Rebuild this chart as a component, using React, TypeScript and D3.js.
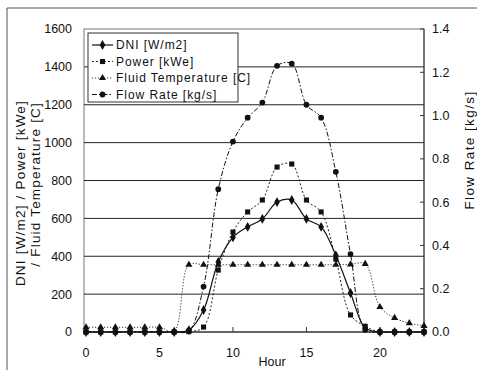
import React from 'react';
import * as d3 from 'd3';

const hours = d3.range(0, 24);
const dni = [0, 0, 0, 0, 0, 0, 0, 10, 116, 370, 500, 555, 597, 686, 697, 597, 555, 405, 206, 22, 0, 0, 0, 0];
const power = [0, 0, 0, 0, 0, 0, 0, 2, 26, 327, 528, 634, 697, 871, 887, 697, 634, 385, 90, 30, 0, 0, 0, 0];
const fluidTemp = [25, 25, 25, 25, 25, 25, 5, 355, 355, 355, 355, 355, 355, 355, 355, 355, 355, 355, 357, 360, 132, 74, 47, 32];
const flowRate = [0, 0, 0, 0, 0, 0, 0, 0.005, 0.21, 0.66, 0.88, 0.99, 1.06, 1.23, 1.24, 1.05, 0.99, 0.74, 0.36, 0.01, 0, 0, 0, 0];

const leftTicks = [0, 200, 400, 600, 800, 1000, 1200, 1400, 1600];
const rightTicks = [0, 0.2, 0.4, 0.6, 0.8, 1.0, 1.2, 1.4];
const hourTicks = [0, 5, 10, 15, 20];

const seriesNames = ['DNI [W/m2]', 'Power [kWe]', 'Fluid Temperature [C]', 'Flow Rate [kg/s]'];

const W = 477;
const H = 370;
const font = '"Liberation Sans", Arial, sans-serif';

const x = d3.scaleLinear().domain([0, 23]).range([86, 424]);
const yL = d3.scaleLinear().domain([0, 1600]).range([332, 29]);
const yR = d3.scaleLinear().domain([0, 1.4]).range([332, 29]);

type Marker = 'diamond' | 'square' | 'triangle' | 'circle';

const markerPath = (m: Marker) => {
  const sym = m === 'diamond' ? d3.symbolDiamond : m === 'square' ? d3.symbolSquare : m === 'triangle' ? d3.symbolTriangle : d3.symbolCircle;
  const size = m === 'diamond' ? 28 : m === 'square' ? 26 : m === 'triangle' ? 22 : 26;
  return d3.symbol(sym, size)() as string;
};

const series = [
  { name: seriesNames[0], values: dni, scale: yL, dash: undefined, marker: 'diamond' as Marker, width: 1.2, color: '#111' },
  { name: seriesNames[1], values: power, scale: yL, dash: '2,2', marker: 'square' as Marker, width: 1, color: '#222' },
  { name: seriesNames[2], values: fluidTemp, scale: yL, dash: '1.2,1.8', marker: 'triangle' as Marker, width: 1, color: '#333' },
  { name: seriesNames[3], values: flowRate, scale: yR, dash: '5,2,1.5,2', marker: 'circle' as Marker, width: 1, color: '#111' },
];

export default function App() {
  const [, x1] = x.range();
  const [yBottom, yTop] = yL.range();

  return (
    <svg width={W} height={H} style={{ display: 'block', position: 'absolute', left: 0, top: 0, background: '#fff' }}>
      {/* outer frame */}
      <line x1={7} y1={8} x2={W} y2={8} stroke="#555" strokeWidth={1} />
      <line x1={7} y1={8} x2={7} y2={H} stroke="#555" strokeWidth={1} />

      {/* plot frame */}
      <rect x={84} y={yTop} width={x1 - 84} height={yBottom - yTop} fill="none" stroke="#777" strokeWidth={1} />

      {/* gridlines */}
      {leftTicks.slice(1, -1).map(t => (
        <line key={t} x1={84} x2={x1} y1={yL(t)} y2={yL(t)} stroke="#222" strokeWidth={1} />
      ))}
      <line x1={84} x2={x1} y1={yBottom} y2={yBottom} stroke="#111" strokeWidth={1.2} />
      <line x1={x1} x2={x1} y1={yTop} y2={yBottom} stroke="#333" strokeWidth={1} />

      {/* left tick labels */}
      {leftTicks.map(t => (
        <text key={t} x={72} y={yL(t)} dy="0.35em" textAnchor="end" fontFamily={font} fontSize={12.5} fill="#111">{t}</text>
      ))}

      {/* right ticks and labels */}
      {rightTicks.map(t => (
        <g key={t}>
          <line x1={x1 - 4} x2={x1} y1={yR(t)} y2={yR(t)} stroke="#333" />
          <text x={432} y={yR(t)} dy="0.35em" fontFamily={font} fontSize={12.5} fill="#111">{t.toFixed(1)}</text>
        </g>
      ))}

      {/* bottom ticks and labels */}
      {hourTicks.map(t => (
        <g key={t}>
          <line x1={x(t)} x2={x(t)} y1={yBottom} y2={yBottom - 5} stroke="#333" />
          <text x={x(t)} y={357} textAnchor="middle" fontFamily={font} fontSize={12.5} fill="#111">{t}</text>
        </g>
      ))}

      {/* axis titles */}
      <text x={272} y={366} textAnchor="middle" fontFamily={font} fontSize={12.5} fill="#111">Hour</text>
      <text transform="translate(25,100) rotate(-90)" textAnchor="end" fontFamily={font} fontSize={13.5} letterSpacing={1.2} fill="#111">DNI [W/m2] / Power [kWe]</text>
      <text transform="translate(40,102) rotate(-90)" textAnchor="end" fontFamily={font} fontSize={13.5} letterSpacing={1.2} fill="#111">/ Fluid Temperature [C]</text>
      <text transform="translate(474,150) rotate(-90)" textAnchor="middle" fontFamily={font} fontSize={13.5} letterSpacing={1.4} fill="#111">Flow Rate [kg/s]</text>

      {/* series */}
      {series.map(s => {
        const line = d3.line<number>()
          .x((_, i) => x(hours[i]))
          .y(d => s.scale(d))
          .curve(d3.curveCatmullRom.alpha(0.5));
        return (
          <g key={s.name}>
            <path d={line(s.values) as string} fill="none" stroke={s.color} strokeWidth={s.width} strokeDasharray={s.dash} />
            {s.values.map((v, i) => (
              <path key={i} d={markerPath(s.marker)} transform={`translate(${x(hours[i])},${s.scale(v)})`} fill="#111" />
            ))}
          </g>
        );
      })}

      {/* legend */}
      <rect x={88} y={33} width={150} height={69} fill="#fff" stroke="#333" strokeWidth={1} />
      {series.map((s, i) => {
        const ly = 45 + i * 16.5;
        return (
          <g key={s.name}>
            <line x1={92} x2={113} y1={ly} y2={ly} stroke={s.color} strokeWidth={s.width} strokeDasharray={s.dash} />
            <path d={markerPath(s.marker)} transform={`translate(102.5,${ly})`} fill="#111" />
            <text x={116} y={ly} dy="0.35em" fontFamily={font} fontSize={12} letterSpacing={0.95} fill="#111">{s.name}</text>
          </g>
        );
      })}
    </svg>
  );
}
